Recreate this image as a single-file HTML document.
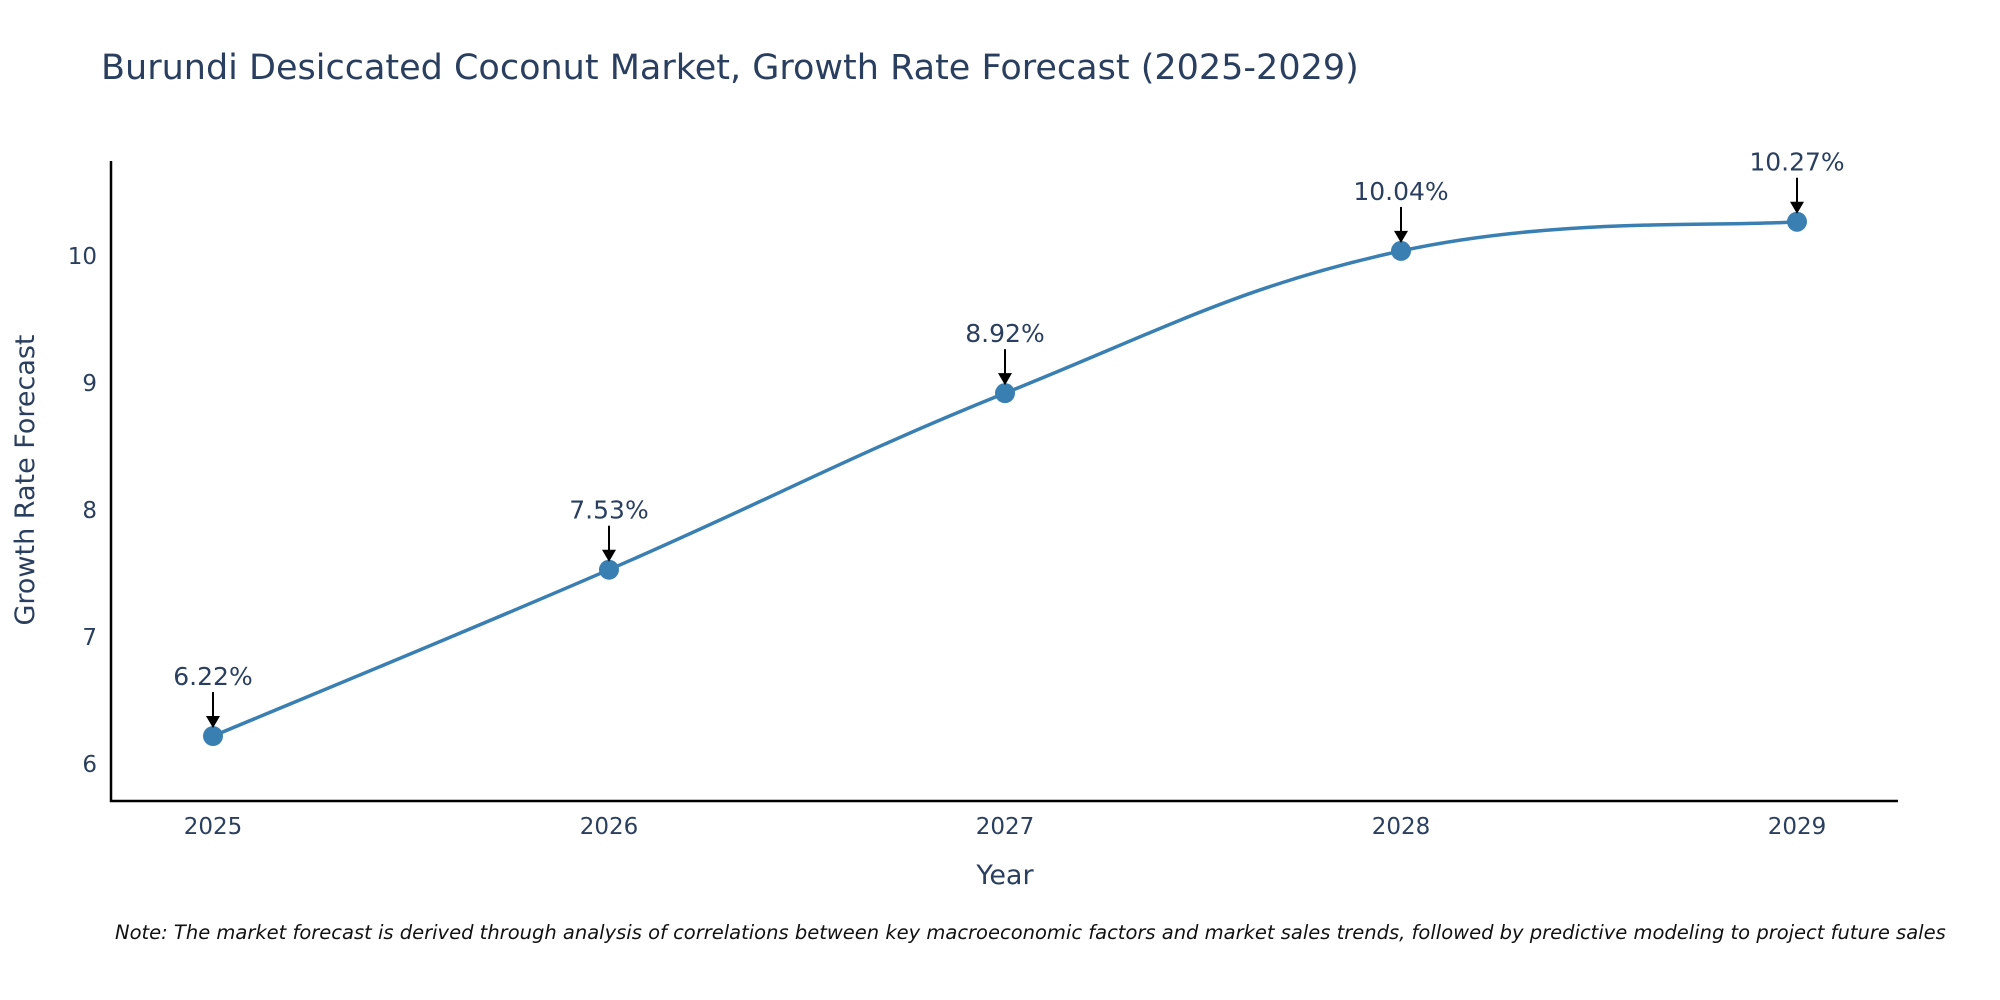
<!DOCTYPE html>
<html><head><meta charset="utf-8"><style>
body{margin:0;background:#fff;}
svg{display:block;font-family:"DejaVu Sans","Liberation Sans",sans-serif;}
</style></head><body>
<svg id="chart" width="2000" height="1000" viewBox="0 0 2000 1000" xmlns="http://www.w3.org/2000/svg">
<text x="101" y="79" font-size="35" fill="#2a3f5f">Burundi Desiccated Coconut Market, Growth Rate Forecast (2025-2029)</text>
<g id="axes"></g>
<g id="plot"></g>
<text x="1005" y="884" font-size="27" fill="#2a3f5f" text-anchor="middle">Year</text>
<text transform="translate(34,480) rotate(-90)" font-size="27" fill="#2a3f5f" text-anchor="middle">Growth Rate Forecast</text>
<text x="115" y="939" font-size="19.5" font-style="italic" fill="#111">Note: The market forecast is derived through analysis of correlations between key macroeconomic factors and market sales trends, followed by predictive modeling to project future sales</text>
</svg>
<script>
const categories = ["2025","2026","2027","2028","2029"];
const values = [6.22, 7.53, 8.92, 10.04, 10.27];
const labels = ["6.22%","7.53%","8.92%","10.04%","10.27%"];
const yTicks = [6,7,8,9,10];

const NS="http://www.w3.org/2000/svg";
const xs = i => 213 + i*(1797-213)/(categories.length-1);
const ys = v => 764 - (v-6)*127;
function mk(tag, attrs, parent){const e=document.createElementNS(NS,tag);for(const k in attrs)e.setAttribute(k,attrs[k]);parent.appendChild(e);return e;}
const axes=document.getElementById('axes'), plot=document.getElementById('plot');

const ax=mk('path',{d:'M111,161 L111,801 L1898,801',fill:'none',stroke:'#000','stroke-width':2.5},axes);


yTicks.forEach(t=>{
  const e=mk('text',{x:97,y:ys(t)+8,'font-size':23,fill:'#2a3f5f','text-anchor':'end'},axes);
  e.textContent=t;
  
  
});
categories.forEach((c,i)=>{
  const e=mk('text',{x:xs(i),y:834,'font-size':23,fill:'#2a3f5f','text-anchor':'middle'},axes);
  e.textContent=c;
  
  
});

const pts=values.map((v,i)=>[xs(i),ys(v)]);
let d='M'+pts[0][0]+','+pts[0][1];
const s=0.2;
for(let i=0;i<pts.length-1;i++){
  const p0=pts[Math.max(i-1,0)],p1=pts[i],p2=pts[i+1],p3=pts[Math.min(i+2,pts.length-1)];
  const c1=[p1[0]+(p2[0]-p0[0])*s,p1[1]+(p2[1]-p0[1])*s];
  const c2=[p2[0]-(p3[0]-p1[0])*s,p2[1]-(p3[1]-p1[1])*s];
  d+=` C${c1[0]},${c1[1]} ${c2[0]},${c2[1]} ${p2[0]},${p2[1]}`;
}
const line=mk('path',{d:d,fill:'none',stroke:'#3a7fb1','stroke-width':3.5},plot);



pts.forEach((p,i)=>{
  const c=mk('circle',{cx:p[0],cy:p[1],r:10,fill:'#3a7fb1'},plot);
  
  
  const a=mk('line',{x1:p[0],y1:p[1]-44,x2:p[0],y2:p[1]-18,stroke:'#000','stroke-width':2},plot);
  
  
  const h=mk('path',{d:`M${p[0]-7},${p[1]-20} L${p[0]+7},${p[1]-20} L${p[0]},${p[1]-8} Z`,fill:'#000'},plot);
  
  
  const t=mk('text',{x:p[0],y:p[1]-51,'font-size':25,fill:'#2a3f5f','text-anchor':'middle'},plot);
  t.textContent=labels[i];
  
  
});
</script>
</body></html>
